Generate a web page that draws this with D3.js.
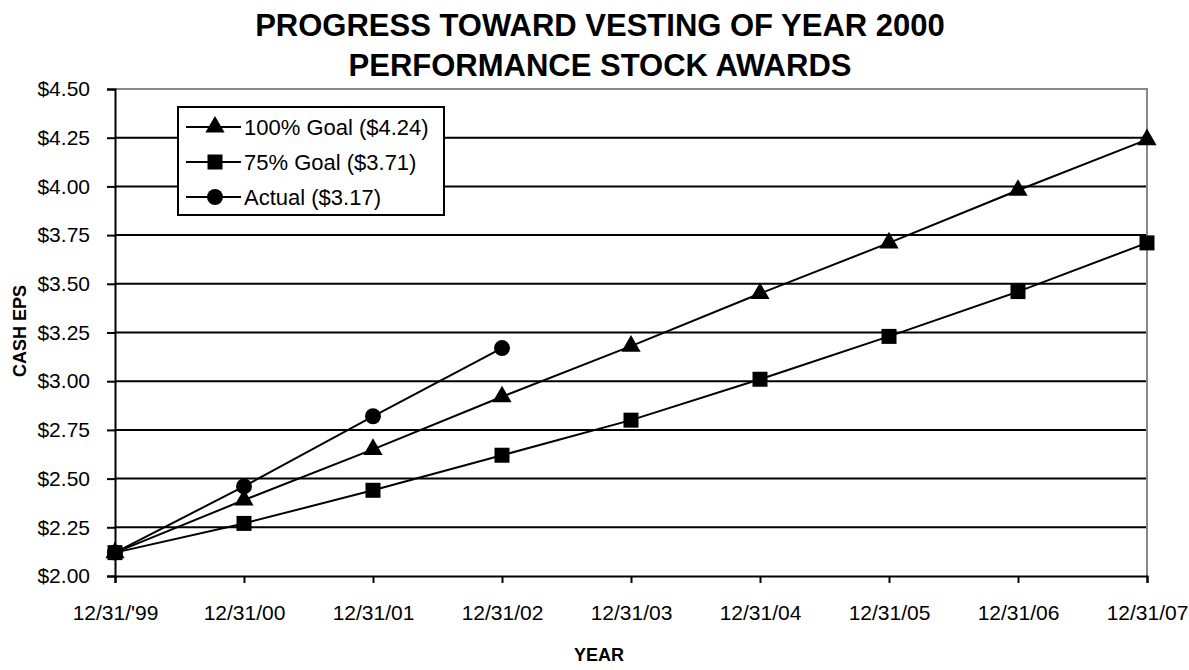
<!DOCTYPE html>
<html>
<head>
<meta charset="utf-8">
<script src="https://cdn.jsdelivr.net/npm/d3@7"></script>
<style>
  body { margin: 0; background: #fff; }
  svg { display: block; font-family: Arial, "Liberation Sans", sans-serif; }
</style>
</head>
<body>
<svg id="chart"></svg>
<script>
// chart data
const years = ["12/31/'99", "12/31/00", "12/31/01", "12/31/02", "12/31/03",
               "12/31/04", "12/31/05", "12/31/06", "12/31/07"];
const goal100 = [2.12, 2.39, 2.65, 2.92, 3.18, 3.45, 3.71, 3.98, 4.24];
const goal75 = [2.12, 2.27, 2.44, 2.62, 2.80, 3.01, 3.23, 3.46, 3.71];
const actual = [2.12, 2.46, 2.82, 3.17];
const yTicks = [2.00, 2.25, 2.50, 2.75, 3.00, 3.25, 3.50, 3.75, 4.00, 4.25, 4.50];
const titleLines = ["PROGRESS TOWARD VESTING OF YEAR 2000", "PERFORMANCE STOCK AWARDS"];

const series = [
    { name: "100% Goal ($4.24)", values: goal100, symbol: d3.symbolTriangle, size: 160 },
    { name: "75% Goal ($3.71)", values: goal75, symbol: d3.symbolSquare, size: 225 },
    { name: "Actual ($3.17)", values: actual, symbol: d3.symbolCircle, size: 200 }
];

const width = 1189, height = 670;
const margin = { top: 89, right: 42, bottom: 94, left: 115 };

const svg = d3.select("#chart")
    .attr("width", width)
    .attr("height", height);

const x = d3.scalePoint()
    .domain(years)
    .range([margin.left, width - margin.right]);

const y = d3.scaleLinear()
    .domain([2.0, 4.5])
    .range([height - margin.bottom, margin.top]);

// title
svg.append("text")
    .attr("text-anchor", "middle")
    .attr("font-size", "31px")
    .attr("font-weight", "bold")
    .selectAll("tspan")
    .data(titleLines)
    .enter().append("tspan")
    .attr("x", 600)
    .attr("y", (d, i) => 25 + i * 40)
    .attr("dy", "0.35em")
    .text(d => d);

// gridlines
svg.append("g")
    .selectAll("line")
    .data(yTicks.slice(1, -1))
    .enter().append("line")
    .attr("x1", margin.left)
    .attr("x2", width - margin.right)
    .attr("y1", d => y(d))
    .attr("y2", d => y(d))
    .attr("stroke", "#000")
    .attr("stroke-width", 2);

// gray top + right border of plot area
svg.append("path")
    .attr("d", `M${margin.left},${y(4.5)}H${width - margin.right}V${y(2.0)}`)
    .attr("fill", "none")
    .attr("stroke", "#888")
    .attr("stroke-width", 2);

// axes
const yAxis = svg.append("g")
    .attr("transform", `translate(${margin.left},0)`)
    .call(d3.axisLeft(y).tickValues(yTicks).tickSize(8).tickPadding(17)
        .tickFormat(d => "$" + d3.format(".2f")(d)));

const xAxis = svg.append("g")
    .attr("transform", `translate(0,${y(2.0)})`)
    .call(d3.axisBottom(x).tickSize(7).tickPadding(22));

[yAxis, xAxis].forEach(a => {
    a.select(".domain").attr("stroke", "#000").attr("stroke-width", 2);
    a.selectAll(".tick line").attr("stroke", "#000").attr("stroke-width", 2);
    a.selectAll(".tick text")
        .attr("fill", "#000")
        .attr("font-size", "21px")
        .attr("font-family", "Arial, 'Liberation Sans', sans-serif");
});

// axis titles
svg.append("text")
    .attr("x", 599)
    .attr("y", 655)
    .attr("text-anchor", "middle")
    .attr("dy", "0.35em")
    .attr("font-size", "18px")
    .attr("font-weight", "bold")
    .text("YEAR");

svg.append("text")
    .attr("transform", "translate(20,331) rotate(-90)")
    .attr("text-anchor", "middle")
    .attr("dy", "0.35em")
    .attr("font-size", "18px")
    .attr("font-weight", "bold")
    .text("CASH EPS");

// lines and markers
const line = d3.line()
    .x((d, i) => x(years[i]))
    .y(d => y(d));

const sg = svg.append("g")
    .selectAll("g")
    .data(series)
    .enter().append("g");

sg.append("path")
    .attr("d", d => line(d.values))
    .attr("fill", "none")
    .attr("stroke", "#000")
    .attr("stroke-width", 2);

sg.selectAll(".mark")
    .data(d => d.values.map((v, i) => ({ v, i, s: d })))
    .enter().append("path")
    .attr("class", "mark")
    .attr("transform", d => `translate(${x(years[d.i])},${y(d.v)})`)
    .attr("d", d => d3.symbol(d.s.symbol, d.s.size)());

// legend
const lg = svg.append("g");
lg.append("rect")
    .attr("x", 178)
    .attr("y", 107)
    .attr("width", 266)
    .attr("height", 108)
    .attr("fill", "#fff")
    .attr("stroke", "#000")
    .attr("stroke-width", 2);

const items = lg.selectAll(".item")
    .data(series)
    .enter().append("g")
    .attr("class", "item")
    .attr("transform", (d, i) => `translate(186,${127 + i * 35})`);

items.append("line")
    .attr("x1", 0).attr("x2", 55)
    .attr("stroke", "#000")
    .attr("stroke-width", 2);

items.append("path")
    .attr("transform", "translate(29,0)")
    .attr("d", d => d3.symbol(d.symbol, d.size)());

items.append("text")
    .attr("x", 58)
    .attr("dy", "0.35em")
    .attr("font-size", "22px")
    .text(d => d.name);
</script>
</body>
</html>
